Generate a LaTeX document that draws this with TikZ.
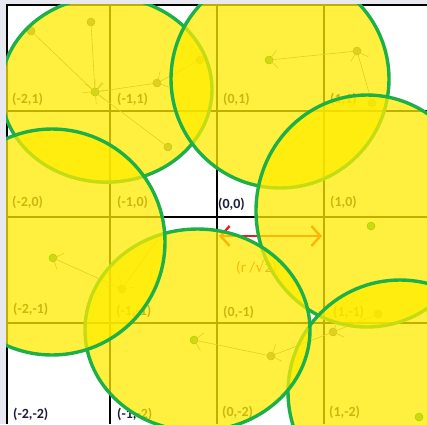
\documentclass[tikz,border=0pt]{standalone}
\usepackage{fontspec}
\setmainfont{Carlito}
\newfontfamily\symfont{DejaVu Sans}
\usetikzlibrary{arrows.meta}
\definecolor{lav}{RGB}{232,232,240}
\definecolor{fillY}{RGB}{255,236,0}
\definecolor{edgeG}{RGB}{30,176,72}
\definecolor{labC}{RGB}{30,30,60}
\definecolor{redA}{RGB}{237,28,36}
\definecolor{dotgray}{RGB}{125,125,125}
\definecolor{dotgreen}{RGB}{40,175,70}
\begin{document}
\begin{tikzpicture}[x=1pt,y=-1pt,
  gridline/.style={line width=1.6pt, black},
  celllab/.style={anchor=west, inner sep=0pt, font=\bfseries\fontsize{14}{14}\selectfont, text=labC},
  pdot/.style={circle, inner sep=0pt, minimum size=8pt, fill=dotgray, draw=black!70, line width=0.5pt},
  gdot/.style={pdot, fill=dotgreen, draw=green!35!black},
  vec/.style={draw=gray, line width=0.6pt, -{Straight Barb[length=8pt,width=18pt]}},
  zone/.style={fill=fillY, fill opacity=0.75, draw=edgeG, line width=3.4pt},
  span/.style={draw=redA, line width=2.4pt, {Straight Barb[length=9pt,width=20pt]}-{Straight Barb[length=9pt,width=20pt]}},
]
\useasboundingbox (0,0) rectangle (427,424);
\fill[lav] (0,0) rectangle (427,424);
\begin{scope}
\clip (6,4) rectangle (427,424);
\fill[white] (6,4) rectangle (427,424);
% grid
\foreach \x in {7,110,217,324} \draw[gridline] (\x,4) -- (\x,424);
\foreach \y in {5,111,217,323} \draw[gridline] (6,\y) -- (427,\y);
% cell labels
\node[celllab] (l21) at (12,99.5) {(-2,1)};
\node[celllab] (l11) at (117,99.5) {(-1,1)};
\node[celllab] (l01) at (223,99.5) {(0,1)};
\node[celllab] (l1p1) at (330,99.5) {(1,1)};
\node[celllab] (l20) at (12,202.5) {(-2,0)};
\node[celllab] (l10) at (117,202.5) {(-1,0)};
\node[celllab] (l00) at (218,204) {(0,0)};
\node[celllab] (l1p0) at (330,202.5) {(1,0)};
\node[celllab] (l2m1) at (13,309) {(-2,-1)};
\node[celllab] (l1m1) at (116,311) {(-1,-1)};
\node[celllab] (l0m1) at (223,312.5) {(0,-1)};
\node[celllab] (lpm1) at (333,312.5) {(1,-1)};
\node[celllab] (l2m2) at (13,414) {(-2,-2)};
\node[celllab] (l1m2) at (117,414) {(-1,-2)};
\node[celllab] (l0m2) at (222,412.5) {(0,-2)};
\node[celllab] (lpm2) at (329,412.5) {(1,-2)};
% red span
\coordinate (sL) at (219,236);
\coordinate (sR) at (322,236);
\draw[span] (sL) -- (sR);
\node[anchor=west, inner sep=0pt, text=redA, font=\fontsize{15}{15}\selectfont] (rlab) at (236,267) {(r /{\symfont √}2)};
% dots
\node[gdot] (g1) at (95,92) {};
\node[gdot] (g2) at (269,60) {};
\node[gdot] (g3) at (53,258) {};
\node[gdot] (g4) at (194,340) {};
\node[gdot] (g5) at (371,226) {};
\node[gdot] (g6) at (419,417) {};
\node[pdot] (p1) at (31,31) {};
\node[pdot] (p2) at (91,22) {};
\node[pdot] (p3) at (157,83) {};
\node[pdot] (p4) at (168,147) {};
\node[pdot] (p5) at (200,60) {};
\node[pdot] (p6) at (357,51) {};
\node[pdot] (p7) at (372,103) {};
\node[pdot] (p8) at (122,289) {};
\node[pdot] (p9) at (271,356) {};
\node[pdot] (p10) at (333,332) {};
\node[pdot] (p11) at (378,314) {};
\coordinate (q1) at (157,240);
% vectors
\draw[vec] (p1.center) -- (g1.center);
\draw[vec] (p2.center) -- (g1.center);
\draw[vec] (p3.center) -- (g1.center);
\draw[vec] (p4.center) -- (g1.center);
\draw[vec] (p5.center) -- (p3.center);
\draw[vec] (p6.center) -- (g2.center);
\draw[vec] (p7.center) -- (p6.center);
\draw[vec] (p8.center) -- (g3.center);
\draw[vec] (q1) -- (p8.center);
\draw[vec] (p9.center) -- (g4.center);
\draw[vec] (p10.center) -- (p9.center);
\draw[vec] (p11.center) -- (p10.center);
% zones
\draw[zone] (106.5,89.5) ellipse [x radius=105.5, y radius=92.7];
\draw[zone] (280,79) circle [radius=109];
\draw[zone] (367,211) ellipse [x radius=111, y radius=116];
\draw[zone] (400,392) circle [radius=112];
\draw[zone] (197.5,330) ellipse [x radius=112.5, y radius=101];
\draw[zone] (52,242) circle [radius=113];
\end{scope}
\end{tikzpicture}
\end{document}
